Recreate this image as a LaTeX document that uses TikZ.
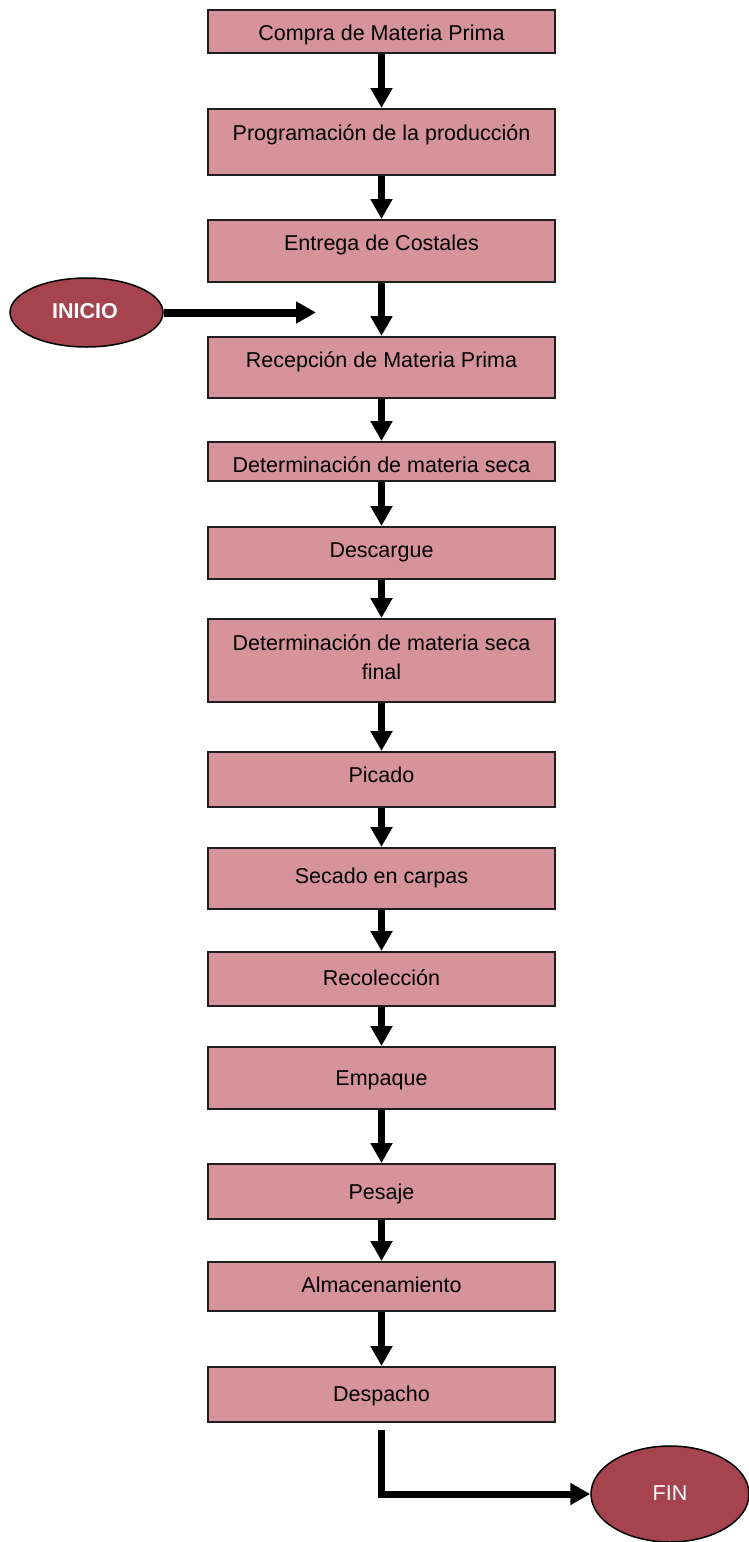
\documentclass[tikz,border=0pt]{standalone}
\usepackage{fontspec}
\setmainfont{Liberation Sans}
\usetikzlibrary{arrows.meta,shapes.geometric}
\definecolor{boxfill}{RGB}{214,147,155}
\definecolor{ovalfill}{RGB}{165,68,79}
\definecolor{edge}{RGB}{30,30,30}
\tikzset{
  stepbox/.style={draw=edge, line width=2pt, fill=boxfill, rectangle, minimum width=347pt, inner sep=0pt},
  lab/.style={anchor=base, inner sep=0pt, font=\fontsize{21.5}{26}\selectfont, text=black},
  oval/.style={draw=black, line width=1.5pt, fill=ovalfill, ellipse, inner sep=0pt},
  flow/.style={line width=6.5pt, line join=miter, -{Triangle[width=21pt,length=20pt]}}
}
\begin{document}
\begin{tikzpicture}[x=1pt,y=-1pt]
\useasboundingbox (0,0) rectangle (749,1542);
% boxes
\node[stepbox, minimum height=43pt] (b1) at (381.5,31.5) {};
\node[stepbox, minimum height=66pt] (b2) at (381.5,142) {};
\node[stepbox, minimum height=62pt] (b3) at (381.5,251) {};
\node[stepbox, minimum height=61pt] (b4) at (381.5,367.5) {};
\node[stepbox, minimum height=39pt] (b5) at (381.5,461.5) {};
\node[stepbox, minimum height=52pt] (b6) at (381.5,553) {};
\node[stepbox, minimum height=83pt] (b7) at (381.5,660.5) {};
\node[stepbox, minimum height=55pt] (b8) at (381.5,779.5) {};
\node[stepbox, minimum height=61pt] (b9) at (381.5,878.5) {};
\node[stepbox, minimum height=54pt] (b10) at (381.5,979) {};
\node[stepbox, minimum height=62pt] (b11) at (381.5,1078) {};
\node[stepbox, minimum height=55pt] (b12) at (381.5,1191.5) {};
\node[stepbox, minimum height=49pt] (b13) at (381.5,1286.5) {};
\node[stepbox, minimum height=55pt] (b14) at (381.5,1394.5) {};
% labels
\node[lab] (t1) at (381.5,40) {Compra de Materia Prima};
\node[lab] (t2) at (381.5,140) {Programación de la producción};
\node[lab] (t3) at (381.5,250) {Entrega de Costales};
\node[lab] (t4) at (381.5,367) {Recepción de Materia Prima};
\node[lab] (t5) at (381.5,472) {Determinación de materia seca};
\node[lab] (t6) at (381.5,557) {Descargue};
\node[lab] (t7a) at (381.5,650) {Determinación de materia seca};
\node[lab] (t7b) at (381.5,679) {final};
\node[lab] (t8) at (381.5,782) {Picado};
\node[lab] (t9) at (381.5,883) {Secado en carpas};
\node[lab] (t10) at (381.5,985) {Recolección};
\node[lab] (t11) at (381.5,1085) {Empaque};
\node[lab] (t12) at (381.5,1199) {Pesaje};
\node[lab] (t13) at (381.5,1292) {Almacenamiento};
\node[lab] (t14) at (381.5,1401) {Despacho};
% terminals
\node[oval, minimum width=153pt, minimum height=69pt] (inicio) at (86.5,312.5) {};
\node[lab, text=white, font=\fontsize{21.5}{26}\selectfont\bfseries] (ti) at (85,318.5) {INICIO};
\node[oval, minimum width=158pt, minimum height=96pt] (fin) at (670,1494) {};
\node[lab, text=white] (tf) at (670,1500) {FIN};
\coordinate (ia) at (316,312.5);
% connectors
\draw[flow] (b1) -- (b2);
\draw[flow] (b2) -- (b3);
\draw[flow] (b3) -- (b4);
\draw[flow] (b4) -- (b5);
\draw[flow] (b5) -- (b6);
\draw[flow] (b6) -- (b7);
\draw[flow] (b7) -- (b8);
\draw[flow] (b8) -- (b9);
\draw[flow] (b9) -- (b10);
\draw[flow] (b10) -- (b11);
\draw[flow] (b11) -- (b12);
\draw[flow] (b12) -- (b13);
\draw[flow] (b13) -- (b14);
\draw[flow, line width=8pt] (inicio) -- (ia);
\draw[flow, line width=7pt] ([yshift=-7pt]b14.south) |- (fin);
\end{tikzpicture}
\end{document}
